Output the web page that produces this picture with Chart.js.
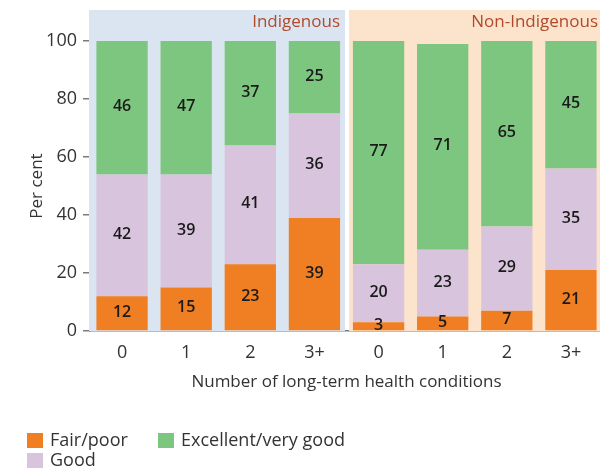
<!DOCTYPE html>
<html>
<head>
<meta charset="utf-8">
<script src="https://cdn.jsdelivr.net/npm/chart.js@4/dist/chart.umd.min.js"></script>
<style>
  html, body { margin: 0; padding: 0; background: #ffffff; overflow: hidden; }
  #wrap { width: 604px; height: 472px; }
</style>
</head>
<body>
<div id="wrap"><canvas id="c" width="604" height="472"></canvas></div>
<script>
// ---- Data ----
const categories = ['0', '1', '2', '3+', '0', '1', '2', '3+'];
const groups = ['Indigenous', 'Non-Indigenous'];
const fairPoor = [12, 15, 23, 39, 3, 5, 7, 21];
const good = [42, 39, 41, 36, 20, 23, 29, 35];
const excellent = [46, 47, 37, 25, 77, 71, 65, 45];
const yTicks = [0, 20, 40, 60, 80, 100];

const FONT = "'Open Sans', 'DejaVu Sans', sans-serif";
const TEXT = '#333333';

// Panel backgrounds + group labels
const panelPlugin = {
  id: 'panels',
  beforeDatasetsDraw(chart) {
    const { ctx, scales: { x, y } } = chart;
    const half = (x.getPixelForValue(1) - x.getPixelForValue(0)) / 2;
    const top = 10;
    const bottom = y.getPixelForValue(0);
    const panels = [
      { from: 0, to: 3, fill: '#dbe5f1', l: -1, r: -1.5 },
      { from: 4, to: 7, fill: '#fbe3cc', l: 2.5, r: 0 }
    ];
    ctx.save();
    panels.forEach((p, i) => {
      const left = x.getPixelForValue(p.from) - half + p.l;
      const right = x.getPixelForValue(p.to) + half + p.r;
      ctx.fillStyle = p.fill;
      ctx.fillRect(left, top, right - left, bottom - top);
      ctx.fillStyle = '#b04a2c';
      ctx.font = "17px " + FONT;
      ctx.textAlign = 'right';
      ctx.textBaseline = 'middle';
      ctx.fillText(groups[i], right - 5, 22);
    });
    ctx.restore();
  }
};

// Value labels centred in each segment
const valuePlugin = {
  id: 'values',
  afterDatasetsDraw(chart) {
    const { ctx } = chart;
    ctx.save();
    ctx.font = "600 16px " + FONT;
    ctx.fillStyle = '#1a1a1a';
    ctx.textAlign = 'center';
    ctx.textBaseline = 'middle';
    chart.data.datasets.forEach((ds, di) => {
      const meta = chart.getDatasetMeta(di);
      meta.data.forEach((el, i) => {
        const top = Math.max(el.y, chart.chartArea.top);
        ctx.fillText(String(ds.data[i]), el.x, (top + el.base) / 2 - 1);
      });
    });
    ctx.restore();
  }
};

// Legend (column layout like the reference)
const legendPlugin = {
  id: 'customLegend',
  afterDraw(chart) {
    const { ctx } = chart;
    const ds = chart.data.datasets;
    const spots = [
      { idx: 0, x: 27, y: 433 },
      { idx: 1, x: 27, y: 453 },
      { idx: 2, x: 158, y: 433 }
    ];
    ctx.save();
    ctx.font = "18px " + FONT;
    ctx.textAlign = 'left';
    ctx.textBaseline = 'middle';
    spots.forEach(s => {
      ctx.fillStyle = ds[s.idx].backgroundColor;
      ctx.fillRect(s.x, s.y, 16, 15);
      ctx.fillStyle = TEXT;
      ctx.fillText(ds[s.idx].label, s.x + 23, s.y + 7.5);
    });
    ctx.restore();
  }
};

new Chart(document.getElementById('c'), {
  type: 'bar',
  data: {
    labels: categories,
    datasets: [
      { label: 'Fair/poor', data: fairPoor, backgroundColor: '#f07e22' },
      { label: 'Good', data: good, backgroundColor: '#d9c4dd' },
      { label: 'Excellent/very good', data: excellent, backgroundColor: '#7dc67f' }
    ]
  },
  options: {
    responsive: false,
    animation: false,
    devicePixelRatio: 1,
    layout: { padding: { top: 41, right: 1, left: 0, bottom: 0 } },
    datasets: { bar: { barPercentage: 0.8, categoryPercentage: 1.0, borderWidth: 0 } },
    plugins: {
      legend: { display: false },
      tooltip: { enabled: false }
    },
    scales: {
      x: {
        stacked: true,
        grid: { display: false, drawTicks: false, tickLength: 0 },
        border: { display: true, color: '#7a7a7a', width: 1.5 },
        ticks: { color: TEXT, font: { family: FONT, size: 18 }, padding: 11 },
        title: {
          display: true, text: 'Number of long-term health conditions',
          color: TEXT, font: { family: FONT, size: 17 }, padding: { top: 4, bottom: 80 }
        },
        afterFit(s) { s.height = 141; }
      },
      y: {
        stacked: true,
        min: 0, max: 100,
        afterBuildTicks(s) { s.ticks = yTicks.map(v => ({ value: v })); },
        grid: { drawOnChartArea: false, drawTicks: true, tickLength: 7, color: '#7a7a7a', lineWidth: 1.5 },
        border: { display: true, color: '#7a7a7a', width: 1.5 },
        ticks: { color: TEXT, font: { family: FONT, size: 18 }, padding: 6 },
        title: {
          display: true, text: 'Per cent',
          color: TEXT, font: { family: FONT, size: 17 }, padding: { top: 27, bottom: 0 }
        },
        afterFit(s) { s.width = 90; }
      }
    }
  },
  plugins: [panelPlugin, valuePlugin, legendPlugin]
});
</script>
</body>
</html>
